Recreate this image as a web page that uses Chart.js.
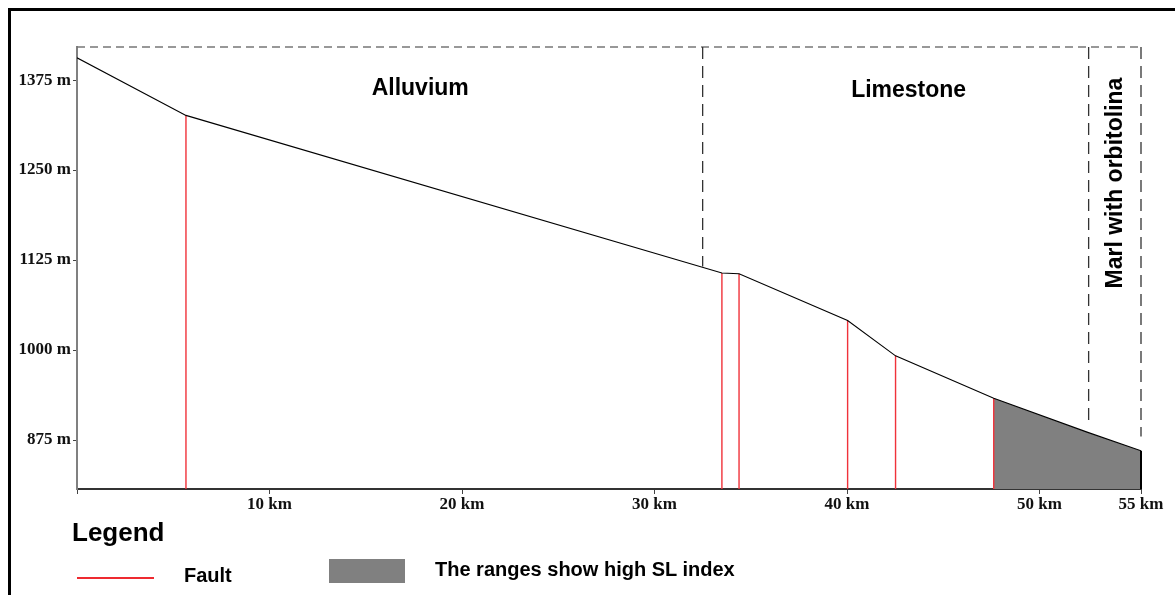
<!DOCTYPE html>
<html>
<head>
<meta charset="utf-8">
<script src="https://cdn.jsdelivr.net/npm/chart.js@4/dist/chart.umd.min.js"></script>
<style>
  html, body { margin: 0; padding: 0; background: #fff; }
  #wrap { position: relative; width: 1175px; height: 595px; overflow: hidden; font-family: 'Liberation Sans', Arial, sans-serif; }
  #frame { position: absolute; left: 8px; top: 8px; right: -10px; bottom: -10px; border-top: 3px solid #000; border-left: 3px solid #000; }
  canvas { position: absolute; left: 0; top: 0; }
  .lg { position: absolute; font-weight: bold; color: #000; white-space: nowrap; }
  #lgTitle { left: 72px; top: 517px; font-size: 26px; }
  #faultLine { position: absolute; left: 77px; top: 577px; width: 77px; height: 2px; background: #ee2a30; }
  #faultTxt { left: 184px; top: 564px; font-size: 20px; }
  #slBox { position: absolute; left: 329px; top: 559px; width: 76px; height: 24px; background: #808080; }
  #slTxt { left: 435px; top: 558px; font-size: 20px; }
</style>
</head>
<body>
<div id="wrap">
  <div id="frame"></div>
  <canvas id="profileChart" width="1175" height="595"></canvas>
  <div class="lg" id="lgTitle">Legend</div>
  <div id="faultLine"></div>
  <div class="lg" id="faultTxt">Fault</div>
  <div id="slBox"></div>
  <div class="lg" id="slTxt">The ranges show high SL index</div>
</div>
<script>
// --- DADOS DO PERFIL ---
const profileKm = [0, 5.66, 33.5, 34.39, 40.03, 42.52, 47.62, 52.47, 55.27];
const profileElev = [1406, 1326, 1107, 1106, 1041, 992, 933, 886, 860];

const faultKm = [5.66, 33.5, 34.39, 40.03, 42.52, 47.62];
const faultTop = [1326, 1107, 1106, 1041, 992, 933];

const slKm = [47.62, 52.47, 55.27];
const slElev = [933, 886, 860];

const boundaryKm = [32.5, 52.55, 55.27];
const boundaryBottom = [1116, 898, 880];

const zoneNames = ['Alluvium', 'Limestone', 'Marl with orbitolina'];

const xTicks = [0, 10, 20, 30, 40, 50, 55.27];
const xTickLabels = ['', '10 km', '20 km', '30 km', '40 km', '50 km', '55 km'];
const yTicks = [875, 1000, 1125, 1250, 1375];

const X_MIN = 0, X_MAX = 55.27;
const Y_MIN = 807, Y_MAX = 1421;

// --- DATASETS ---
const datasets = [];

datasets.push({
  label: 'SL',
  data: slKm.map((k, i) => ({ x: k, y: slElev[i] })),
  borderWidth: 0,
  backgroundColor: '#808080',
  fill: 'start',
  pointRadius: 0,
  order: 5,
});

datasets.push({
  label: 'Profile',
  data: profileKm.map((k, i) => ({ x: k, y: profileElev[i] })),
  borderColor: '#000',
  borderWidth: 1.1,
  pointRadius: 0,
  fill: false,
  order: 1,
});

faultKm.forEach((k, i) => {
  datasets.push({
    label: 'Fault',
    data: [{ x: k, y: faultTop[i] }, { x: k, y: Y_MIN }],
    borderColor: '#f0323a',
    borderWidth: 1.4,
    pointRadius: 0,
    fill: false,
    order: 2,
  });
});

// borda direita da faixa sombreada
datasets.push({
  label: 'edge',
  data: [{ x: slKm[slKm.length - 1], y: slElev[slElev.length - 1] }, { x: slKm[slKm.length - 1], y: Y_MIN }],
  borderColor: '#000',
  borderWidth: 2,
  pointRadius: 0,
  fill: false,
  clip: false,
  order: 1,
});

boundaryKm.forEach((k, i) => {
  datasets.push({
    label: 'boundary',
    data: [{ x: k, y: Y_MAX }, { x: k, y: boundaryBottom[i] }],
    borderColor: '#333',
    borderWidth: 1.3,
    borderDash: [12, 7],
    pointRadius: 0,
    fill: false,
    clip: false,
    order: 3,
  });
});

datasets.push({
  label: 'top',
  data: [{ x: X_MIN, y: Y_MAX }, { x: X_MAX, y: Y_MAX }],
  borderColor: '#777',
  borderWidth: 1.5,
  borderDash: [8, 5],
  pointRadius: 0,
  fill: false,
  clip: false,
  order: 3,
});

// --- RÓTULOS DAS ZONAS ---
const zoneLabels = {
  id: 'zoneLabels',
  afterDatasetsDraw(chart) {
    const { ctx, scales: { x, y } } = chart;
    ctx.save();
    ctx.fillStyle = '#000';
    ctx.font = 'bold 23px "Liberation Sans", Arial, sans-serif';
    ctx.textAlign = 'center';
    ctx.textBaseline = 'middle';
    ctx.fillText(zoneNames[0], x.getPixelForValue(17.83), y.getPixelForValue(1363));
    ctx.fillText(zoneNames[1], x.getPixelForValue(43.2), y.getPixelForValue(1360));
    ctx.translate(x.getPixelForValue(53.93), y.getPixelForValue(1232));
    ctx.rotate(-Math.PI / 2);
    ctx.fillText(zoneNames[2], 0, 0);
    ctx.restore();
  },
};

const tickFont = { family: '"Liberation Serif", "Times New Roman", serif', size: 17, weight: 'bold' };

const ctx = document.getElementById('profileChart').getContext('2d');
new Chart(ctx, {
  type: 'line',
  data: { datasets },
  plugins: [zoneLabels],
  options: {
    responsive: false,
    animation: false,
    layout: { padding: { left: 0, top: 47, right: 34, bottom: 0 } },
    plugins: { legend: { display: false }, tooltip: { enabled: false } },
    scales: {
      x: {
        type: 'linear',
        min: X_MIN,
        max: X_MAX,
        afterBuildTicks: (s) => { s.ticks = xTicks.map((v) => ({ value: v })); },
        afterFit: (s) => { s.height = 106; },
        grid: { drawOnChartArea: false, drawTicks: true, tickLength: 5, color: '#444', lineWidth: 1 },
        border: { display: true, color: '#333', width: 2 },
        ticks: {
          autoSkip: false,
          maxRotation: 0,
          padding: 0,
          color: '#111',
          font: tickFont,
          callback: (v, i) => xTickLabels[i],
        },
      },
      y: {
        type: 'linear',
        min: Y_MIN,
        max: Y_MAX,
        afterBuildTicks: (s) => { s.ticks = yTicks.map((v) => ({ value: v })); },
        afterFit: (s) => { s.width = 77; },
        grid: { drawOnChartArea: false, drawTicks: true, tickLength: 4, color: '#444', lineWidth: 1 },
        border: { display: true, color: '#808080', width: 2 },
        ticks: {
          padding: 2,
          color: '#111',
          font: tickFont,
          callback: (v) => v + ' m',
        },
      },
    },
  },
});
</script>
</body>
</html>
